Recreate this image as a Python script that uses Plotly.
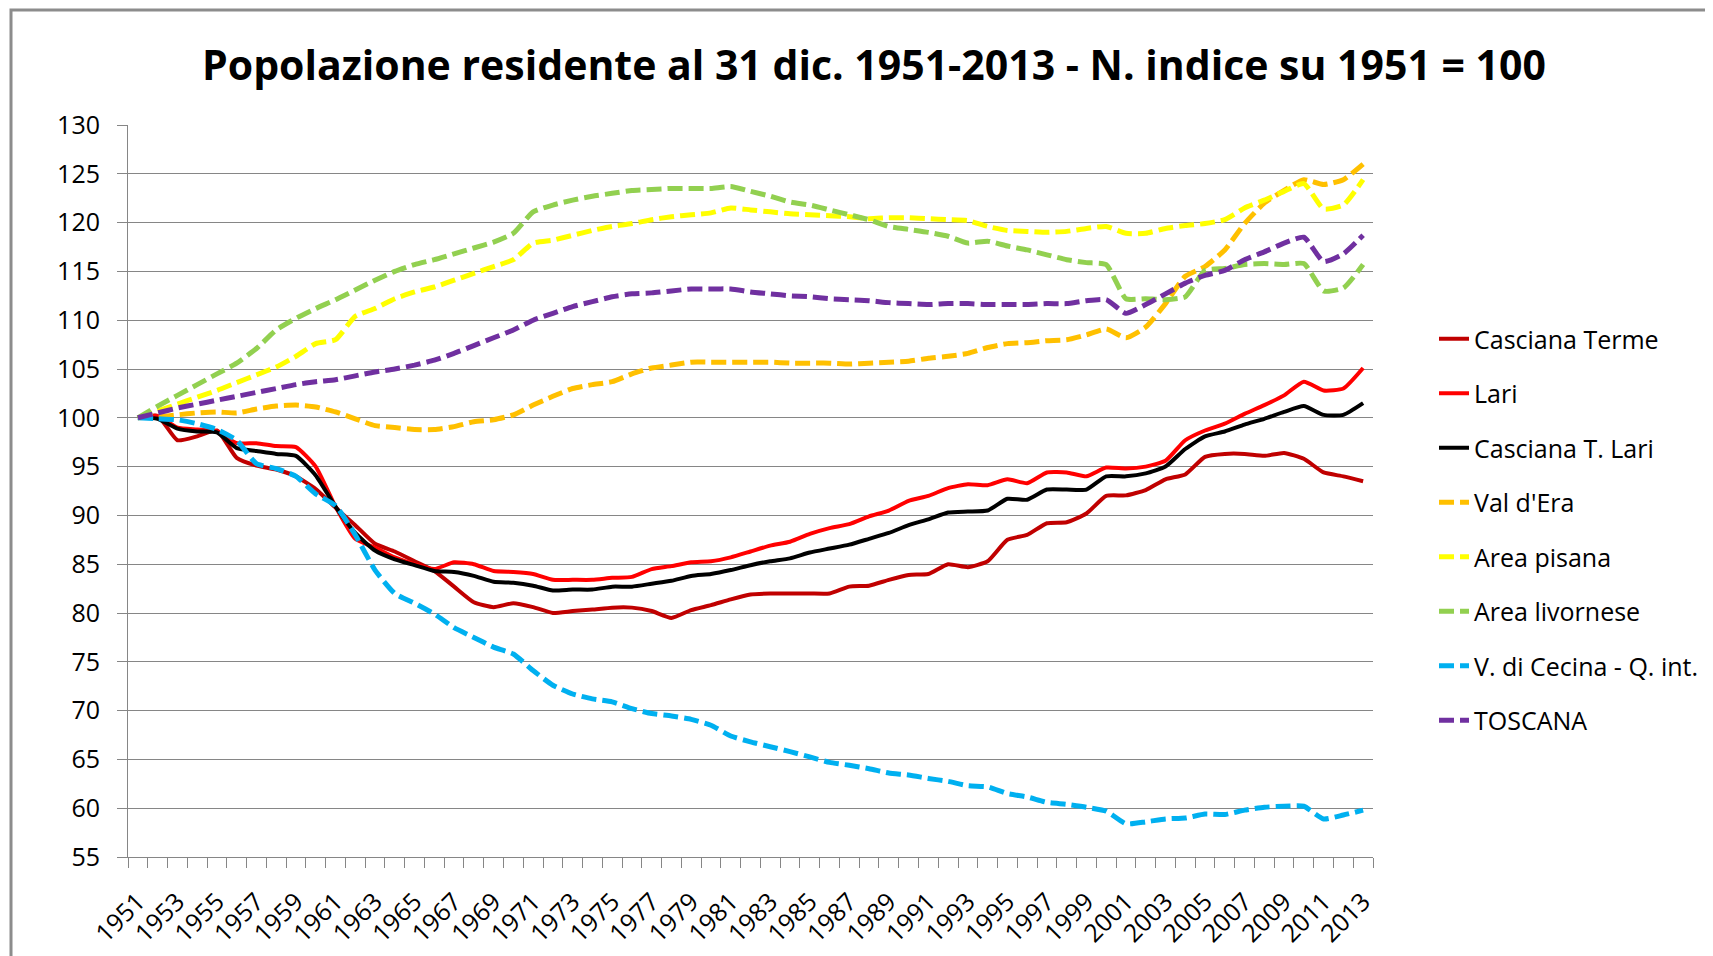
import plotly.graph_objects as go

years = list(range(1951, 2014))

casciana_terme = [100, 100.2, 97.7, 98.1, 98.7, 95.9, 95.1, 94.7, 94.0, 92.7,
                  90.8, 89.0, 87.1, 86.3, 85.3, 84.3, 82.7, 81.1, 80.6, 81.0,
                  80.6, 80.0, 80.2, 80.35, 80.55, 80.55, 80.2, 79.5, 80.3, 80.8,
                  81.4, 81.9, 82.0, 82.0, 82.0, 82.0, 82.7, 82.8, 83.4, 83.9,
                  84.0, 85.0, 84.7, 85.3, 87.5, 88.0, 89.2, 89.3, 90.2, 92.0,
                  92.05, 92.6, 93.7, 94.2, 96.0, 96.3, 96.3, 96.1, 96.4, 95.8,
                  94.4, 94.0, 93.5]
lari = [100, 100.2, 99.0, 98.8, 98.6, 97.4, 97.4, 97.1, 97.0, 95.0,
        90.9, 87.6, 86.7, 85.7, 85.0, 84.5, 85.2, 85.0, 84.3, 84.2,
        84.0, 83.4, 83.4, 83.4, 83.6, 83.7, 84.5, 84.8, 85.2, 85.3,
        85.7, 86.3, 86.9, 87.3, 88.1, 88.7, 89.1, 89.9, 90.5, 91.5,
        92.0, 92.8, 93.2, 93.1, 93.7, 93.3, 94.4, 94.4, 94.0, 94.9,
        94.8, 95.0, 95.6, 97.7, 98.7, 99.4, 100.4, 101.3, 102.3, 103.7,
        102.8, 103.0, 105.1]
casciana_t_lari = [100, 99.9, 98.9, 98.6, 98.5, 96.9, 96.6, 96.3, 96.1, 94.1,
                   90.9, 88.2, 86.4, 85.5, 84.9, 84.3, 84.2, 83.8, 83.2, 83.1,
                   82.8, 82.3, 82.4, 82.4, 82.7, 82.7, 83.0, 83.3, 83.8, 84.0,
                   84.4, 84.9, 85.3, 85.6, 86.2, 86.6, 87.0, 87.6, 88.2, 89.0,
                   89.6, 90.3, 90.4, 90.5, 91.7, 91.6, 92.65, 92.65, 92.65, 94.0,
                   94.0, 94.3, 95.0, 96.8, 98.1, 98.6, 99.3, 99.9, 100.6, 101.2,
                   100.3, 100.3, 101.5]
val_d_era = [100, 100.1, 100.3, 100.5, 100.6, 100.5, 100.9, 101.2, 101.3, 101.1,
             100.6, 99.9, 99.2, 99.0, 98.8, 98.8, 99.1, 99.6, 99.8, 100.3,
             101.3, 102.2, 103.0, 103.4, 103.7, 104.5, 105.1, 105.4, 105.7, 105.7,
             105.7, 105.7, 105.7, 105.6, 105.6, 105.6, 105.5, 105.6, 105.7, 105.8,
             106.1, 106.3, 106.6, 107.2, 107.6, 107.7, 107.9, 108.0, 108.5, 109.1,
             108.2, 109.3, 111.7, 114.5, 115.5, 117.2, 119.9, 122.0, 123.3, 124.4,
             123.9, 124.4, 126.0]
area_pisana = [100, 100.7, 101.4, 102.1, 102.8, 103.6, 104.4, 105.2, 106.3, 107.6,
               108.0, 110.4, 111.2, 112.2, 112.9, 113.4, 114.1, 114.8, 115.5, 116.2,
               117.9, 118.2, 118.7, 119.2, 119.6, 119.9, 120.3, 120.6, 120.8, 121.0,
               121.5, 121.3, 121.1, 120.9, 120.8, 120.7, 120.6, 120.4, 120.5, 120.5,
               120.4, 120.3, 120.2, 119.6, 119.2, 119.1, 119.0, 119.1, 119.4, 119.6,
               118.9, 118.9, 119.4, 119.7, 119.9, 120.3, 121.5, 122.3, 123.2, 124.0,
               121.4, 121.8, 124.4]
area_livornese = [100, 101.2, 102.3, 103.4, 104.5, 105.6, 107.1, 109.0, 110.2, 111.2,
                  112.1, 113.1, 114.1, 115.0, 115.7, 116.2, 116.8, 117.4, 118.0, 118.9,
                  121.1, 121.8, 122.3, 122.7, 123.0, 123.3, 123.4, 123.5, 123.5, 123.5,
                  123.7, 123.2, 122.7, 122.1, 121.8, 121.3, 120.8, 120.3, 119.6, 119.3,
                  119.0, 118.6, 117.9, 118.1, 117.6, 117.2, 116.7, 116.2, 115.9, 115.7,
                  112.2, 112.2, 112.1, 112.4, 115.1, 115.3, 115.7, 115.8, 115.7, 115.8,
                  113.0, 113.3, 115.7]
v_di_cecina = [100, 99.9, 99.8, 99.4, 98.8, 97.7, 95.3, 94.8, 94.0, 92.2,
               91.0, 88.0, 84.4, 82.0, 81.0, 79.9, 78.5, 77.5, 76.5, 75.8,
               74.1, 72.6, 71.7, 71.2, 70.9, 70.2, 69.7, 69.45, 69.1, 68.5,
               67.4, 66.8, 66.3, 65.8, 65.25, 64.7, 64.4, 64.05, 63.6, 63.4,
               63.05, 62.75, 62.3, 62.2, 61.5, 61.15, 60.6, 60.4, 60.1, 59.7,
               58.4, 58.6, 58.9, 59.0, 59.4, 59.35, 59.8, 60.1, 60.2, 60.2,
               58.9, 59.3, 59.8]
toscana = [100, 100.5, 101.0, 101.4, 101.8, 102.2, 102.6, 103.0, 103.4, 103.7,
           103.9, 104.3, 104.7, 105.0, 105.4, 105.9, 106.6, 107.4, 108.2, 109.0,
           110.0, 110.7, 111.4, 111.9, 112.4, 112.7, 112.8, 113.0, 113.2, 113.2,
           113.2, 112.9, 112.7, 112.5, 112.4, 112.2, 112.1, 112.0, 111.8, 111.7,
           111.6, 111.7, 111.7, 111.6, 111.6, 111.6, 111.7, 111.7, 112.0, 112.1,
           110.7, 111.6, 112.7, 113.8, 114.6, 115.1, 116.2, 117.0, 117.9, 118.5,
           116.0, 116.8, 118.7]

series_names = ["Casciana Terme", "Lari", "Casciana T. Lari", "Val d'Era",
                "Area pisana", "Area livornese", "V. di Cecina - Q. int.", "TOSCANA"]
series_values = [casciana_terme, lari, casciana_t_lari, val_d_era,
                 area_pisana, area_livornese, v_di_cecina, toscana]
series_colors = ["#C00000", "#FF0000", "#000000", "#FFC000",
                 "#FFFF00", "#92D050", "#00B0F0", "#7030A0"]
series_dashed = [False, False, False, True, True, True, True, True]

tick_years = list(range(1951, 2014, 2))
tick_labels = [str(y) for y in tick_years]

FONT = "Open Sans"
GRID = "#868686"

# page body has an 8px margin: figure drawn 8px smaller and shifted
W, H = 1705, 948
L, R, T, B = 120, 340, 117, 99
PW = W - L - R
PH = H - T - B

fig = go.Figure()
for i, (name, vals, col, dashed) in enumerate(zip(series_names, series_values,
                                                   series_colors, series_dashed)):
    fig.add_trace(go.Scatter(
        x=years, y=vals, name=name, mode="lines",
        legendgroup=f"g{i}",
        line=dict(color=col, width=5 if dashed else 4,
                  dash="15px,6px" if dashed else "solid",
                  shape="spline", smoothing=0.5),
        hoverinfo="x+y+name",
    ))

fig.update_layout(
    width=W, height=H,
    margin=dict(l=L, r=R, t=T, b=B, autoexpand=False),
    paper_bgcolor="white", plot_bgcolor="white",
    font=dict(family=FONT, size=25, color="black"),
    title=dict(text="<b>Popolazione residente al 31 dic. 1951-2013 - N. indice su 1951 = 100</b>",
               xref="container", x=866 / W, xanchor="center",
               yref="container", y=1 - 57.5 / H, yanchor="middle",
               font=dict(family=FONT, size=41, color="black")),
    showlegend=True,
    legend=dict(xref="container", yref="container",
                x=1426 / W, xanchor="left", y=1 - 308 / H, yanchor="top",
                font=dict(family=FONT, size=25, color="black"),
                tracegroupgap=19, bgcolor="rgba(0,0,0,0)"),
    xaxis=dict(range=[1950.5, 2013.5], tickmode="array", tickvals=tick_years,
               ticktext=tick_labels, tickangle=-45, showgrid=False, zeroline=False,
               showline=True, linecolor=GRID, linewidth=1, automargin=False,
               ticks="outside", ticklen=10, tickcolor="rgba(0,0,0,0)",
               ticklabelstandoff=9,
               tickfont=dict(family=FONT, size=25, color="black"),
               minor=dict(tickmode="linear", tick0=1950.5, dtick=1, ticks="outside",
                          ticklen=10, tickcolor=GRID, tickwidth=1, showgrid=False)),
    yaxis=dict(range=[55, 130], tickmode="linear", tick0=55, dtick=5,
               showgrid=True, gridcolor=GRID, gridwidth=1, zeroline=False,
               showline=True, linecolor=GRID, linewidth=1, automargin=False,
               ticks="outside", ticklen=10, tickcolor=GRID,
               ticklabelstandoff=12,
               tickfont=dict(family=FONT, size=25, color="black")),
    shapes=[dict(type="rect", xref="paper", yref="paper",
                 x0=(3 - L) / PW, x1=(1730 - L) / PW,
                 y0=(T + PH - 975) / PH, y1=(T + PH - 2) / PH,
                 line=dict(color="#8C8C8C", width=3), fillcolor="rgba(0,0,0,0)",
                 layer="below")],
)

fig.write_html("out.html")
